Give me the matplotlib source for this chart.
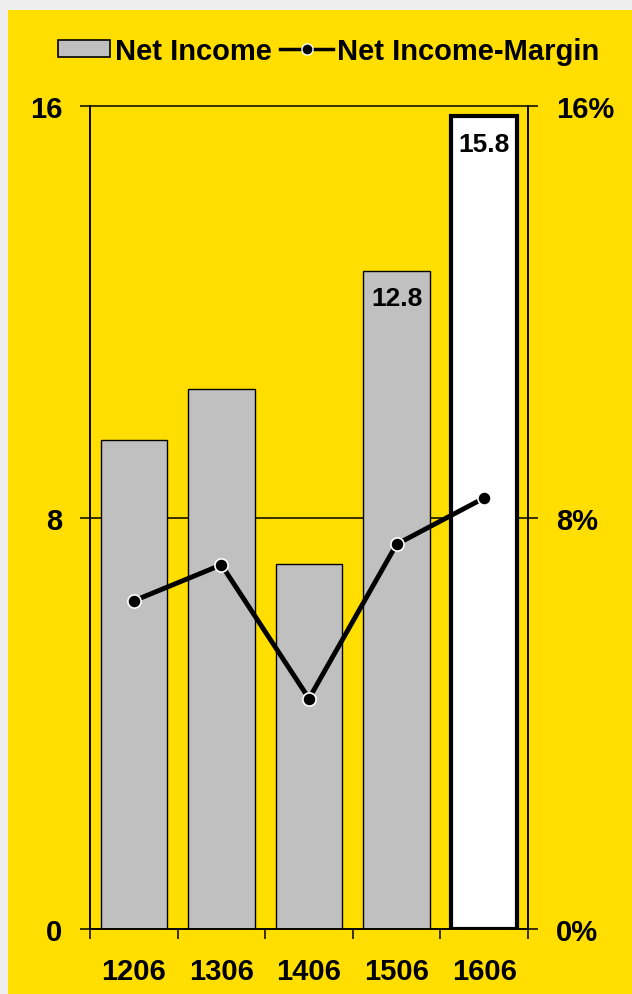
import matplotlib.pyplot as plt
from matplotlib.patches import Patch, Rectangle
from matplotlib.lines import Line2D
import numpy as np

plt.rcParams['font.family'] = ['Liberation Sans', 'DejaVu Sans']
plt.rcParams['font.weight'] = 'bold'

periods = ['1206', '1306', '1406', '1506', '1606']
net_income = [9.5, 10.5, 7.1, 12.8, 15.8]
margin_pct = [6.38, 7.08, 4.48, 7.48, 8.38]
labelled = {3: '12.8', 4: '15.8'}

yellow = '#FFDE00'
grey_bar = '#C0C0C0'

fig = plt.figure(figsize=(6.32, 9.95), dpi=100, facecolor='#EEEEEE')
# yellow panel behind everything
fig.patches.append(Rectangle((8 / 632, 0), 1, 1 - 11 / 995, transform=fig.transFigure,
                             facecolor=yellow, edgecolor='none', zorder=-10))

ax = fig.add_axes([90 / 632, 1 - 930 / 995, (528 - 90) / 632, (930 - 107) / 995])
ax.set_facecolor('none')
x = np.arange(len(periods))

colors = [grey_bar] * 4 + ['white']
widths = [1, 1, 1, 1, 3]
ax.bar(x, net_income, width=0.76, color=colors, edgecolor='black', linewidth=widths, zorder=2)
for i, txt in labelled.items():
    ax.annotate(txt, (x[i], net_income[i]), xytext=(0, -11), textcoords='offset points',
                ha='center', va='top', fontsize=19, fontweight='bold', zorder=5)

ax.set_xlim(-0.5, len(periods) - 0.5)
ax.set_ylim(0, 16)
ax.set_yticks([0, 8, 16])
ax.set_yticklabels(['0', '8', '16'])
ax.axhline(8, color='black', lw=1.1, zorder=1)
ax.axhline(16, color='black', lw=1.1, zorder=1, clip_on=False)
ax.spines['top'].set_visible(False)
for s in ['left', 'right', 'bottom']:
    ax.spines[s].set_linewidth(1.1)

# category labels at centres, tick marks at boundaries
ax.set_xticks(x)
ax.set_xticklabels(periods)
ax.set_xticks(np.arange(-0.5, len(periods)), minor=True)
ax.tick_params(axis='x', which='major', length=0, pad=20, labelsize=21)
ax.tick_params(axis='x', which='minor', length=7, width=1.1, direction='out')
ax.tick_params(axis='y', length=7, width=1.1, direction='out', pad=13, labelsize=21)

ax2 = ax.twinx()
ax2.set_ylim(0, 16)
ax2.set_yticks([0, 8, 16])
ax2.set_yticklabels(['0%', '8%', '16%'])
ax2.tick_params(axis='y', length=7, width=1.1, direction='out', pad=13, labelsize=21)
ax2.spines['top'].set_visible(False)
for s in ['left', 'right', 'bottom']:
    ax2.spines[s].set_linewidth(1.1)
ax2.plot(x, margin_pct, color='black', lw=3.5, marker='o', markersize=9.5,
         markerfacecolor='black', markeredgecolor='white', markeredgewidth=1.2, zorder=4)
for lbl in ax.get_yticklabels() + ax2.get_yticklabels() + ax.get_xticklabels():
    lbl.set_fontweight('bold')

handles = [Patch(facecolor=grey_bar, edgecolor='black', linewidth=1.2, label='Net Income'),
           Line2D([], [], color='black', lw=2.5, marker='o', markersize=8,
                  markerfacecolor='black', markeredgecolor='white', label='Net Income-Margin')]
fig.legend(handles=handles, loc='center', bbox_to_anchor=(0.52, 1 - 52 / 995), ncol=2,
           frameon=False, fontsize=21, handlelength=1.8, handleheight=0.55,
           handletextpad=0.15, columnspacing=0.3, prop={'weight': 'bold', 'size': 21})

fig.savefig('out.png', dpi=100, facecolor=fig.get_facecolor())
